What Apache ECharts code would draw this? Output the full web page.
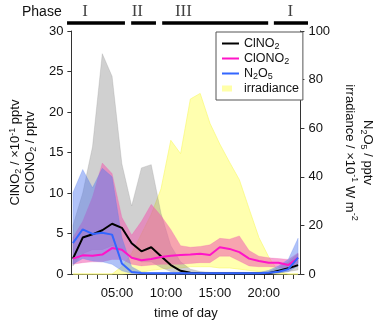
<!DOCTYPE html>
<html>
<head>
<meta charset="utf-8">
<script src="https://cdn.jsdelivr.net/npm/echarts@6/dist/echarts.min.js"></script>
<style>
  html, body { margin: 0; padding: 0; background: #fff; }
  #chart { width: 385px; height: 325px; }
</style>
</head>
<body>
<div id="chart"></div>
<script>
// hour of day (bin centres)
const hours = [0.5, 1.5, 2.5, 3.5, 4.5, 5.5, 6.5, 7.5, 8.5, 9.5, 10.5, 11.5,
  12.5, 13.5, 14.5, 15.5, 16.5, 17.5, 18.5, 19.5, 20.5, 21.5, 22.5, 23.5];

// ClNO2 (x10^-1 pptv), left axis
const clno2 = [1.9, 4.5, 4.9, 5.4, 6.2, 5.7, 3.8, 2.8, 3.3, 2.2, 1.1, 0.4,
  0.15, 0.08, 0.06, 0.05, 0.05, 0.05, 0.05, 0.05, 0.1, 0.4, 0.7, 1.1];
const clno2Lo = [1.0, 2.5, 3.0, 3.0, 3.5, 3.0, 2.0, 1.5, 1.5, 0.8, 0.3, 0.1,
  0.05, 0.03, 0.02, 0.02, 0.02, 0.02, 0.02, 0.02, 0.03, 0.1, 0.3, 0.5];
const clno2Hi = [6.0, 10.0, 15.7, 27.2, 24.4, 13.6, 8.4, 13.1, 13.5, 7.5, 3.5, 1.5,
  0.6, 0.3, 0.2, 0.2, 0.2, 0.2, 0.2, 0.2, 0.3, 0.8, 1.5, 2.5];

// ClONO2 (pptv), left axis
const clono2 = [1.9, 2.3, 2.25, 2.4, 3.2, 3.0, 2.0, 1.7, 1.85, 2.1, 2.25, 2.35,
  2.4, 2.5, 2.35, 3.3, 3.1, 2.7, 1.9, 1.6, 1.4, 1.4, 1.1, 2.0];
const clono2Lo = [1.2, 1.4, 1.5, 1.5, 1.8, 1.8, 1.2, 1.0, 1.1, 1.2, 1.2, 1.2,
  1.3, 1.4, 1.4, 2.2, 2.2, 1.6, 1.0, 0.9, 0.9, 0.8, 0.6, 1.4];
const clono2Hi = [4.5, 6.5, 9.5, 13.7, 12.4, 7.0, 4.8, 6.5, 8.6, 7.2, 5.5, 3.5,
  3.3, 3.4, 3.6, 4.4, 4.3, 4.7, 2.9, 2.2, 2.0, 1.9, 1.8, 2.6];

// N2O5 (pptv), right axis
const n2o5 = [12.7, 18.4, 16.5, 17.0, 16.2, 4.3, 0.8, 0.4, 0.3, 0.3, 0.3, 0.3,
  0.3, 0.3, 0.3, 0.3, 0.3, 0.3, 0.3, 0.3, 0.5, 0.9, 2.0, 6.7];
const n2o5Lo = [4.0, 6.4, 5.3, 5.0, 4.0, 1.3, 0.2, 0.1, 0.1, 0.1, 0.1, 0.1,
  0.1, 0.1, 0.1, 0.1, 0.1, 0.1, 0.1, 0.1, 0.2, 0.5, 1.0, 3.3];
const n2o5Hi = [33.5, 43.0, 35.5, 43.5, 40.0, 15.0, 3.0, 0.8, 0.6, 0.6, 0.6, 0.6,
  0.6, 0.6, 0.6, 0.6, 0.6, 0.6, 0.6, 0.6, 1.5, 3.3, 6.0, 14.7];

// irradiance (x10^-1 W m^-2), right axis
const irrLo = [0, 0, 0, 0, 0, 0, 0.3, 0.8, 1.5, 2.0, 2.5, 2.5,
  3.0, 3.0, 3.0, 2.5, 2.5, 2.0, 1.5, 1.0, 0.3, 0, 0, 0];
const irrHi = [0, 0, 0, 0, 0, 3.0, 8.5, 16.5, 24.5, 35.0, 55.0, 49.5,
  72.0, 74.3, 62.0, 53.5, 46.0, 38.8, 26.8, 15.0, 7.0, 1.0, 0, 0];

// phases along the top
const phaseNames = ['I', 'II', 'III', 'I'];
const phaseStart = [0.15, 6.35, 9.35, 20.15];
const phaseEnd = [5.75, 8.75, 19.6, 23.45];
const phaseLabelAt = [1.9, 6.95, 11.4, 21.75];

const tickHours = [1, 2, 3, 4, 5, 6, 7, 8, 9, 10, 11, 12, 13, 14, 15, 16, 17, 18, 19, 20, 21, 22, 23];
const labelHours = [5, 10, 15, 20];

const FONT = 'Liberation Sans';
const pairs = ys => hours.map((h, i) => [h, ys[i]]);

// shaded range between lo and hi, drawn as one polygon through the axes
function band(name, lo, hi, yAxisIndex, color, edge) {
  return {
    name: name, type: 'custom', yAxisIndex: yAxisIndex, silent: true,
    data: hours.map((h, i) => [h, lo[i], hi[i]]),
    encode: { x: 0, y: [1, 2] },
    itemStyle: { color: color },
    renderItem: (params, api) => {
      if (params.dataIndex !== 0) return null;
      const top = hours.map((h, i) => api.coord([h, hi[i]]));
      const bot = hours.map((h, i) => api.coord([h, lo[i]])).reverse();
      return {
        type: 'polygon',
        shape: { points: top.concat(bot) },
        style: { fill: color, stroke: edge, lineWidth: 0.8 }
      };
    }
  };
}

const chart = echarts.init(document.getElementById('chart'));

const phaseSeries = phaseStart.map((s, i) => ({
  type: 'line', xAxisIndex: 1, yAxisIndex: 2, symbol: 'none', silent: true,
  data: [[s, 23], [phaseEnd[i], 23]],
  lineStyle: { color: '#000', width: 3.5 }
}));

const sub = { fontSize: 9, lineHeight: 9, verticalAlign: 'bottom' };
const sup = { fontSize: 9, lineHeight: 9, verticalAlign: 'top' };
const lineIcon = 'path://M0,0h0.01v0.01h-0.01z M0,4.5h17v2h-17z M17,11h0.01v0.01h-0.01z';

chart.setOption({
  animation: false,
  title: {
    text: 'Phase', left: 17, top: 0,
    textStyle: { fontFamily: FONT, fontSize: 14, fontWeight: 'normal', color: '#111' }
  },
  legend: {
    data: [
      { name: 'ClNO2', icon: lineIcon },
      { name: 'ClONO2', icon: lineIcon },
      { name: 'N2O5', icon: lineIcon },
      { name: 'irradiance', icon: 'path://M0,0h0.01v0.01h-0.01z M0,2.5h10v6h-10z M17,11h0.01v0.01h-0.01z',
        itemStyle: { color: '#ffffa8' } }
    ],
    orient: 'vertical', left: 216, top: 32,
    backgroundColor: '#fff', borderColor: '#555', borderWidth: 1,
    padding: [4, 4, 4, 6], itemGap: 0, itemWidth: 17, itemHeight: 11,
    selectedMode: false,
    formatter: n => ({ ClNO2: 'ClNO{s|2}', ClONO2: 'ClONO{s|2}', N2O5: 'N{s|2}O{s|5}' }[n] || n),
    textStyle: { fontFamily: FONT, fontSize: 12.5, lineHeight: 15, color: '#111', rich: { s: sub } }
  },
  grid: [
    { left: 69, right: 74, top: 31, bottom: 45 },
    { left: 69, right: 74, top: 0, height: 30 }
  ],
  xAxis: [
    {
      type: 'value', min: 0.34, max: 23.74, gridIndex: 0,
      splitLine: { show: false },
      axisLine: { lineStyle: { color: '#333' } },
      axisTick: { customValues: tickHours, length: 5, lineStyle: { color: '#333' } },
      axisLabel: {
        customValues: labelHours, margin: 13, fontFamily: FONT, fontSize: 13, color: '#111',
        formatter: v => (v < 10 ? '0' : '') + v + ':00'
      },
      name: 'time of day', nameLocation: 'middle', nameGap: 33,
      nameTextStyle: { fontFamily: FONT, fontSize: 13, color: '#111' }
    },
    { type: 'value', min: 0.34, max: 23.74, gridIndex: 1, show: false }
  ],
  yAxis: [
    {
      type: 'value', min: 0, max: 30, interval: 5, gridIndex: 0,
      splitLine: { show: false },
      axisLine: { show: true, lineStyle: { color: '#333' } },
      axisTick: { show: true, length: 4, lineStyle: { color: '#333' } },
      axisLabel: { margin: 8, fontFamily: FONT, fontSize: 13, color: '#111' },
      name: 'ClNO{s|2} / ×10{p|-1} pptv\nClONO{s|2} / pptv',
      nameLocation: 'middle', nameGap: 33,
      nameTextStyle: { fontFamily: FONT, fontSize: 13, lineHeight: 15, color: '#111', rich: { s: sub, p: sup } }
    },
    {
      type: 'value', min: 0, max: 100, interval: 20, gridIndex: 0, position: 'right',
      splitLine: { show: false },
      axisLine: { show: true, lineStyle: { color: '#333' } },
      axisTick: { show: true, length: 4, lineStyle: { color: '#333' } },
      axisLabel: { margin: 8, fontFamily: FONT, fontSize: 13, color: '#111' },
      name: 'N{s|2}O{s|5} / pptv\nirradiance / ×10{p|-1} W m{p|-2}',
      nameLocation: 'middle', nameGap: 36, nameRotate: -90,
      nameTextStyle: { fontFamily: FONT, fontSize: 13, lineHeight: 18, color: '#111', rich: { s: sub, p: sup } }
    },
    { type: 'value', min: 0, max: 30, inverse: true, gridIndex: 1, show: false }
  ],
  series: [
    band('irradiance', irrLo, irrHi, 1, 'rgba(255,255,110,0.55)', 'rgba(250,250,120,0.9)'),
    band('ClNO2 range', clno2Lo, clno2Hi, 0, 'rgba(120,120,120,0.35)', 'rgba(140,140,140,0.3)'),
    {
      name: 'ClNO2', type: 'line', data: pairs(clno2), symbol: 'none',
      itemStyle: { color: '#000' }, lineStyle: { color: '#000', width: 2 }
    },
    band('ClONO2 range', clono2Lo, clono2Hi, 0, 'rgba(240,90,175,0.55)', 'rgba(240,90,175,0.3)'),
    band('N2O5 range', n2o5Lo, n2o5Hi, 1, 'rgba(80,120,240,0.45)', 'rgba(80,120,240,0.3)'),
    {
      name: 'ClONO2', type: 'line', data: pairs(clono2), symbol: 'none',
      itemStyle: { color: '#ff14c8' }, lineStyle: { color: '#ff14c8', width: 2 }
    },
    {
      name: 'N2O5', type: 'line', yAxisIndex: 1, data: pairs(n2o5), symbol: 'none',
      itemStyle: { color: '#3366ff' }, lineStyle: { color: '#3366ff', width: 2 }
    },
    ...phaseSeries,
    {
      type: 'scatter', xAxisIndex: 1, yAxisIndex: 2, symbolSize: 0, silent: true,
      data: phaseNames.map((n, i) => [phaseLabelAt[i], 12, n]),
      label: {
        show: true, position: 'inside', formatter: p => p.value[2],
        fontFamily: 'Liberation Serif', fontSize: 17, color: '#111'
      }
    }
  ]
});
</script>
</body>
</html>
